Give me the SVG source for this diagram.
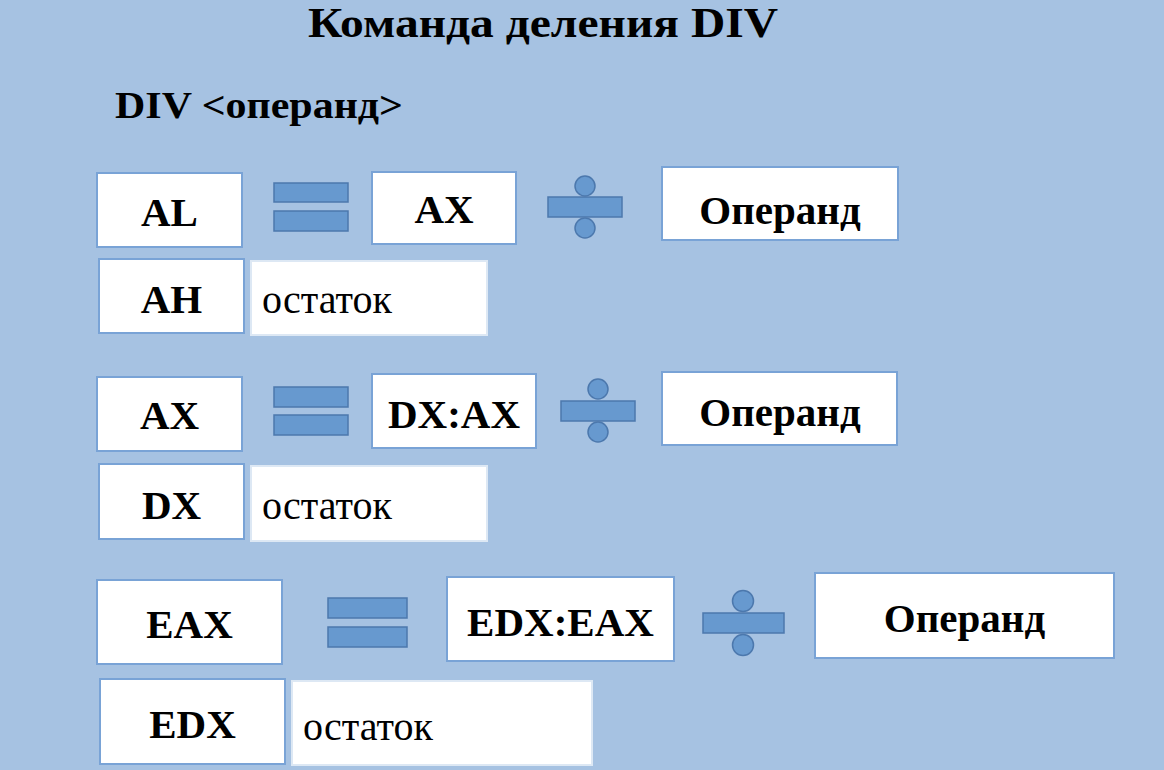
<svg xmlns="http://www.w3.org/2000/svg" width="1164" height="770" viewBox="0 0 1164 770" font-family="Liberation Serif, DejaVu Serif, serif">
  <style>
    .bg { fill: #a6c2e2; }
    .box { fill: #ffffff; stroke: #79a3d6; stroke-width: 2; }
    .rem { fill: #ffffff; stroke: #dde8f4; stroke-width: 2; }
    .sym { fill: #6799cf; stroke: #4c78ad; stroke-width: 1.5; }
    .lbl { font-weight: bold; font-size: 41px; text-anchor: middle; }
    .rtxt { font-size: 40px; }
    .head { font-weight: bold; }
  </style>
  <rect class="bg" x="0" y="0" width="1164" height="770"/>

  <text class="head" x="308" y="37" font-size="42" textLength="470" lengthAdjust="spacingAndGlyphs" font-family="Liberation Serif">Команда деления DIV</text>
  <text class="head" x="115" y="118" font-size="37" textLength="288" lengthAdjust="spacingAndGlyphs" font-family="Liberation Serif">DIV &lt;операнд&gt;</text>

  <!-- byte divisor: AL = AX / operand, remainder AH -->
  <g id="row1" font-family="Liberation Serif">
    <g id="r1-al"><rect class="box" x="97" y="173" width="145" height="74"/><text class="lbl" x="169.5" y="226">AL</text></g>
    <g id="r1-eq"><rect class="sym" x="274" y="183" width="74" height="19"/><rect class="sym" x="274" y="211" width="74" height="20"/></g>
    <g id="r1-ax"><rect class="box" x="372" y="172" width="144" height="72"/><text class="lbl" x="444" y="223">AX</text></g>
    <g id="r1-div"><circle class="sym" cx="585" cy="186" r="10"/><rect class="sym" x="548" y="197" width="74" height="20"/><circle class="sym" cx="585" cy="228" r="10"/></g>
    <g id="r1-op"><rect class="box" x="662" y="167" width="236" height="73"/><text class="lbl" x="780" y="224">Операнд</text></g>
    <g id="r1-ah"><rect class="box" x="99" y="259" width="145" height="74"/><text class="lbl" x="171.5" y="313">AH</text></g>
    <g id="r1-rem"><rect class="rem" x="251" y="261" width="236" height="74"/><text class="rtxt" x="262" y="313">остаток</text></g>
  </g>

  <!-- word divisor: AX = DX:AX / operand, remainder DX -->
  <g id="row2" font-family="Liberation Serif">
    <g id="r2-ax"><rect class="box" x="97" y="377" width="145" height="74"/><text class="lbl" x="169.5" y="429">AX</text></g>
    <g id="r2-eq"><rect class="sym" x="274" y="387" width="74" height="20"/><rect class="sym" x="274" y="415" width="74" height="20"/></g>
    <g id="r2-dxax"><rect class="box" x="372" y="374" width="164" height="74"/><text class="lbl" x="454" y="428">DX:AX</text></g>
    <g id="r2-div"><circle class="sym" cx="598" cy="389" r="10"/><rect class="sym" x="561" y="401" width="74" height="20"/><circle class="sym" cx="598" cy="432" r="10"/></g>
    <g id="r2-op"><rect class="box" x="662" y="372" width="235" height="73"/><text class="lbl" x="780" y="426">Операнд</text></g>
    <g id="r2-dx"><rect class="box" x="99" y="464" width="145" height="75"/><text class="lbl" x="171.5" y="519">DX</text></g>
    <g id="r2-rem"><rect class="rem" x="251" y="466" width="236" height="75"/><text class="rtxt" x="262" y="519">остаток</text></g>
  </g>

  <!-- doubleword divisor: EAX = EDX:EAX / operand, remainder EDX -->
  <g id="row3" font-family="Liberation Serif">
    <g id="r3-eax"><rect class="box" x="97" y="580" width="185" height="84"/><text class="lbl" x="189.5" y="638">EAX</text></g>
    <g id="r3-eq"><rect class="sym" x="328" y="598" width="79" height="20"/><rect class="sym" x="328" y="627" width="79" height="20"/></g>
    <g id="r3-edxeax"><rect class="box" x="447" y="577" width="227" height="84"/><text class="lbl" x="560.5" y="636">EDX:EAX</text></g>
    <g id="r3-div"><circle class="sym" cx="743" cy="601" r="10.5"/><rect class="sym" x="703" y="613" width="81" height="20"/><circle class="sym" cx="743" cy="645" r="10.5"/></g>
    <g id="r3-op"><rect class="box" x="815" y="573" width="299" height="85"/><text class="lbl" x="964.5" y="632">Операнд</text></g>
    <g id="r3-edx"><rect class="box" x="100" y="679" width="185" height="85"/><text class="lbl" x="192.5" y="738">EDX</text></g>
    <g id="r3-rem"><rect class="rem" x="292" y="681" width="300" height="84"/><text class="rtxt" x="303" y="740">остаток</text></g>
  </g>

  <g id="connectors"/>
</svg>
